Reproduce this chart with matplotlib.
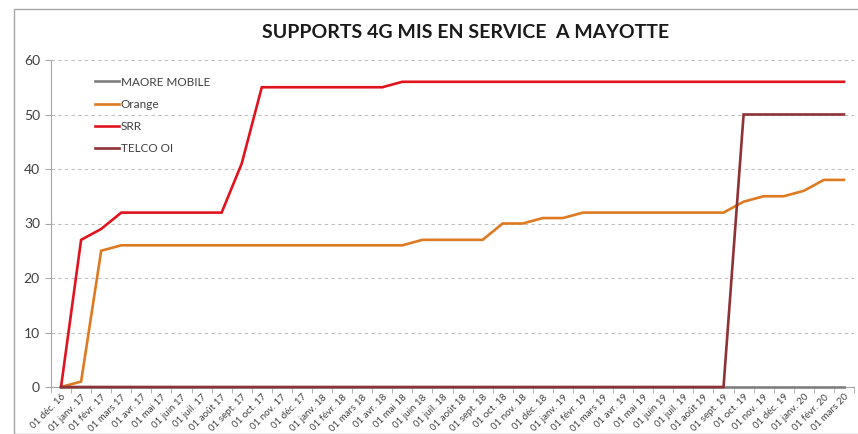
import matplotlib
matplotlib.use("Agg")
import matplotlib.pyplot as plt
from matplotlib.patches import Rectangle

plt.rcParams['font.family'] = ['Lato', 'DejaVu Sans']

months = ["01 déc. 16",
          "01 janv. 17", "01 févr. 17", "01 mars 17", "01 avr. 17", "01 mai 17", "01 juin 17",
          "01 juil. 17", "01 août 17", "01 sept. 17", "01 oct. 17", "01 nov. 17", "01 déc. 17",
          "01 janv. 18", "01 févr. 18", "01 mars 18", "01 avr. 18", "01 mai 18", "01 juin 18",
          "01 juil. 18", "01 août 18", "01 sept. 18", "01 oct. 18", "01 nov. 18", "01 déc. 18",
          "01 janv. 19", "01 févr. 19", "01 mars 19", "01 avr. 19", "01 mai 19", "01 juin 19",
          "01 juil. 19", "01 août 19", "01 sept. 19", "01 oct. 19", "01 nov. 19", "01 déc. 19",
          "01 janv. 20", "01 févr. 20", "01 mars 20"]

maore = [0] * 40
orange = [0, 1, 25, 26, 26, 26, 26, 26, 26, 26, 26, 26, 26, 26, 26, 26, 26, 26, 27, 27,
          27, 27, 30, 30, 31, 31, 32, 32, 32, 32, 32, 32, 32, 32, 34, 35, 35, 36, 38, 38]
srr = [0, 27, 29, 32, 32, 32, 32, 32, 32, 41, 55, 55, 55, 55, 55, 55, 55, 56, 56, 56,
       56, 56, 56, 56, 56, 56, 56, 56, 56, 56, 56, 56, 56, 56, 56, 56, 56, 56, 56, 56]
telco = [0] * 34 + [50] * 6

series = [("MAORE MOBILE", maore, "#7F7F7F"),
          ("Orange", orange, "#DD7A22"),
          ("SRR", srr, "#E0141E"),
          ("TELCO OI", telco, "#8E3236")]

fig = plt.figure(figsize=(8.58, 4.34), dpi=100)
fig.patches.append(Rectangle((14 / 858, 0), 1, 1 - 9 / 434, transform=fig.transFigure,
                             fill=False, edgecolor="#A6A6A6", linewidth=1.0))
ax = fig.add_axes([51 / 858, 1 - 387 / 434, (854 - 51) / 858, (387 - 60) / 434])

x = list(range(len(months)))
for name, vals, col in series:
    ax.plot(x, vals, color=col, lw=1.9, label=name, solid_joinstyle="miter",
            clip_on=False, zorder=3)

ax.set_xlim(-0.5, len(months) - 0.5)
ax.set_ylim(0, 60)
ax.set_yticks(range(0, 61, 10))
ax.yaxis.grid(True, linestyle=(0, (3, 3)), color="#BFBFBF", linewidth=0.8)
ax.set_axisbelow(True)

for s in ["top", "right"]:
    ax.spines[s].set_visible(False)
ax.spines["left"].set_color("#A6A6A6")
ax.spines["bottom"].set_color("#A6A6A6")

ax.set_xticks(x)
ax.set_xticklabels(months, rotation=45, ha="right", rotation_mode="anchor",
                   fontsize=7, color="#404040")
ax.tick_params(axis="x", length=0, pad=4)
ax.set_xticks([i - 0.5 for i in range(len(months) + 1)], minor=True)
ax.tick_params(axis="x", which="minor", length=4, color="#A6A6A6", direction="out")
ax.tick_params(axis="y", length=4, color="#A6A6A6", labelsize=10, labelcolor="#404040", pad=4)

leg = ax.legend(loc="upper left", bbox_to_anchor=(0.042, 0.982), frameon=False,
                fontsize=8.5, handlelength=2.0, handletextpad=0.15, labelspacing=0.95,
                labelcolor="#404040")

fig.text(466 / 858, 1 - 33 / 434, "SUPPORTS 4G MIS EN SERVICE  A MAYOTTE", ha="center",
         va="center", fontsize=14, fontweight="bold", color="#1A1A1A")

fig.savefig("out.png", dpi=100, facecolor="white")
